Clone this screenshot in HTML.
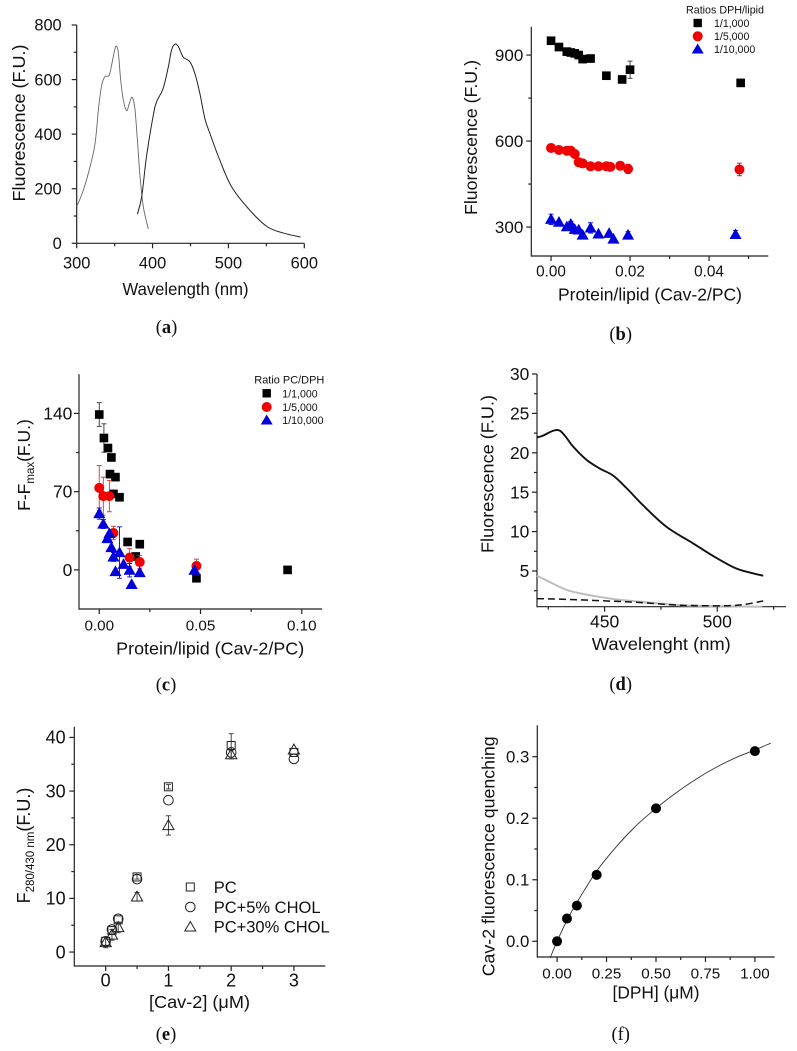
<!DOCTYPE html>
<html lang="en">
<head>
<meta charset="utf-8">
<title>Fluorescence panels</title>
<style>
html,body{margin:0;padding:0;background:#fff;width:797px;height:1051px;overflow:hidden}
svg{display:block}
text{font-family:"Liberation Sans",sans-serif;fill:#111}
.cap{font-family:"Liberation Serif",serif;font-size:18.5px;text-anchor:middle}
.cap tspan{font-weight:bold}
.ttl{font-size:17.5px}
.leg{font-size:10.6px}
</style>
</head>
<body>
<svg id="fig" width="797" height="1051" viewBox="0 0 797 1051" xmlns="http://www.w3.org/2000/svg">
  <rect width="797" height="1051" fill="#fff"/>

  <g id="panel-a">
    <text class="ttl" transform="translate(25,123) rotate(-90)" text-anchor="middle" textLength="157" lengthAdjust="spacingAndGlyphs">Fluorescence (F.U.)</text>
    <text class="ttl" x="185.5" y="295" text-anchor="middle" textLength="126" lengthAdjust="spacingAndGlyphs">Wavelength (nm)</text>
    <text class="cap" x="166.5" y="333">(<tspan>a</tspan>)</text>
  </g>

  <g id="panel-b">
    <text class="ttl" transform="translate(477,137.5) rotate(-90)" text-anchor="middle" textLength="155" lengthAdjust="spacingAndGlyphs">Fluorescence (F.U.)</text>
    <text class="ttl" x="650" y="300.5" text-anchor="middle" textLength="184" lengthAdjust="spacingAndGlyphs">Protein/lipid (Cav-2/PC)</text>
    <text class="cap" x="620.7" y="340">(<tspan>b</tspan>)</text>
    <g>
      <text class="leg" x="725" y="13.5" text-anchor="middle" textLength="78" lengthAdjust="spacingAndGlyphs">Ratios DPH/lipid</text>
      <rect x="693.5" y="18.8" width="8.4" height="8.4" fill="#000"/>
      <text class="leg" x="714" y="27">1/1,000</text>
      <circle cx="697.7" cy="36.3" r="5" fill="#f00000"/>
      <text class="leg" x="714" y="40.2">1/5,000</text>
      <polygon points="697.7,43.5 703.7,53.5 691.7,53.5" fill="#0000dd"/>
      <text class="leg" x="714" y="53.2">1/10,000</text>
    </g>
  </g>

  <g id="panel-c">
    <text class="ttl" transform="translate(30,465) rotate(-90)" text-anchor="middle">F-F<tspan font-size="11.5" dy="4">max</tspan><tspan dy="-4">(F.U.)</tspan></text>
    <text class="ttl" x="210.2" y="654.3" text-anchor="middle" textLength="188" lengthAdjust="spacingAndGlyphs">Protein/lipid (Cav-2/PC)</text>
    <text class="cap" x="166" y="690.7">(<tspan>c</tspan>)</text>
    <g>
      <text class="leg" x="289.3" y="383.5" text-anchor="middle" textLength="70" lengthAdjust="spacingAndGlyphs">Ratio PC/DPH</text>
      <rect x="262.5" y="389.1" width="8.4" height="8.4" fill="#000"/>
      <text class="leg" x="282.3" y="397.3">1/1,000</text>
      <circle cx="266.7" cy="407" r="5" fill="#f00000"/>
      <text class="leg" x="282.3" y="410.8">1/5,000</text>
      <polygon points="266.7,414.5 272.7,424.5 260.7,424.5" fill="#0000dd"/>
      <text class="leg" x="282.3" y="424.2">1/10,000</text>
    </g>
  </g>

  <g id="panel-d">
    <text class="ttl" transform="translate(493.3,474) rotate(-90)" text-anchor="middle" textLength="158" lengthAdjust="spacingAndGlyphs">Fluorescence (F.U.)</text>
    <text class="ttl" x="661.3" y="650" text-anchor="middle" textLength="139" lengthAdjust="spacingAndGlyphs">Wavelenght (nm)</text>
    <text class="cap" x="620.7" y="690">(<tspan>d</tspan>)</text>
  </g>

  <g id="panel-e">
    <text class="ttl" transform="translate(30,845.5) rotate(-90)" text-anchor="middle" style="font-size:18px">F<tspan font-size="11.5" dy="4">280/430 nm</tspan><tspan dy="-4">(F.U.)</tspan></text>
    <text class="ttl" x="199.5" y="1008" text-anchor="middle" textLength="101" lengthAdjust="spacingAndGlyphs">[Cav-2] (μM)</text>
    <text class="cap" x="166" y="1040">(<tspan>e</tspan>)</text>
    <g>
      <rect x="186.3" y="883" width="8" height="8" fill="none" stroke="#222" stroke-width="1"/>
      <text x="213.7" y="893" font-size="16.5">PC</text>
      <circle cx="190.3" cy="907" r="4.8" fill="none" stroke="#222" stroke-width="1"/>
      <text x="213.7" y="913" font-size="16.5">PC+5% CHOL</text>
      <polygon points="190.3,921.5 195.8,931 184.8,931" fill="none" stroke="#222" stroke-width="1"/>
      <text x="213.7" y="932.5" font-size="16.5">PC+30% CHOL</text>
    </g>
  </g>

  <g id="panel-f">
    <text class="ttl" transform="translate(494.3,856.3) rotate(-90)" text-anchor="middle" textLength="240" lengthAdjust="spacingAndGlyphs">Cav-2 fluorescence quenching</text>
    <text class="ttl" x="656" y="998.3" text-anchor="middle" textLength="87" lengthAdjust="spacingAndGlyphs">[DPH] (μM)</text>
    <text class="cap" x="620.7" y="1040">(<tspan style="font-weight:normal">f</tspan>)</text>
  </g>
</svg>

<script>
// ---------- Panel (a) ----------
const aExcitationNm = [300,308.8,317.6,324.2,329,333,337.3,342.6,346,350.5,352.7,355,358,361.5,365.9,369.4,372.9,376.4,380,383.5,387.8,394.4];
const aExcitationFU = [134,195,281,366,500,580,611,615,653,714,721,696,598,525,486,513,535,501,379,244,134,52];
const aEmissionNm = [380,385.7,392,401,405.4,414,420.8,425,429.6,434,440.5,449,455.7,462.3,468.9,475.5,488.6,504,526,551,573,595];
const aEmissionFU = [107,171,318,470,519,568,647,708,730,721,682,666,623,550,458,403,305,208,128,61,37,23];
const aXTicks = [300,400,500,600];
const aXMinor = [350,450,550];
const aYTicks = [0,200,400,600,800];
const aYMinor = [100,300,500,700];

// ---------- Panel (b) ----------
const bSquareX = [0,.002,.004,.005,.006,.007,.008,.01,.014,.018,.02,.048];
const bSquareY = [950,928,912,909,906,900,886,888,828,815,849,803];
const bSquareErr = [0,0,0,0,0,0,0,0,0,0,30,0];
const bCircleX = [0,.002,.004,.005,.006,.007,.008,.01,.012,.014,.015,.0175,.0195,.0477];
const bCircleY = [576,569,566,566,555,526,522,512,512,512,510,514,503,501];
const bCircleErr = [0,0,0,0,0,0,14,0,0,0,0,0,16,22];
const bTriangleX = [0,.002,.004,.005,.006,.007,.008,.01,.012,.0147,.0158,.0195,.0467];
const bTriangleY = [327,317,301,310,292,290,272,297,276,278,258,272,274];
const bTriangleErr = [18,0,0,10,0,0,0,18,0,0,0,12,14];
const bXTicks = [0,.02,.04];
const bXMinor = [.01,.03,.05];
const bYTicks = [300,600,900];
const bYMinor = [450,750];

// ---------- Panel (c) ----------
const cSquareX = [0,.0023,.0043,.006,.0053,.008,.007,.01,.014,.018,.02,.048,.093];
const cSquareY = [139,118,109,100.6,85.7,83,68,65,25,12,23,-7.5,0];
const cSquareErr = [10.6,12.7,0,0,0,0,0,0,0,0,0,0,0];
const cCircleX = [0,.002,.005,.007,.015,.02,.048];
const cCircleY = [73.4,66,66,33,11,7,3.6];
const cCircleErr = [20,17,14,6,8,6,6];
const cTriangleX = [0,.002,.005,.004,.006,.007,.01,.008,.012,.015,.02,.016,.047];
const cTriangleY = [50.4,41,32.5,28,20,11.6,15.5,-1.5,5,-.3,-2.4,-13,-.3];
const cTriangleErr = [5,4,0,0,0,4,23,0,0,6,0,0,0];
const cXTicks = [0,.05,.1];
const cXMinor = [.025,.075];
const cYTicks = [0,70,140];
const cYMinor = [35,105];

// ---------- Panel (d) ----------
const dBlackNm = [420,422.8,427.2,430.2,433.1,436,442,447.9,453.8,459.8,467.2,477.5,489.3,498.2,507.8,514.5,520.4];
const dBlackFU = [21.95,22.2,22.8,22.8,21.9,20.8,19.1,18,17.1,15.5,13.3,10.6,8.5,6.9,5.4,4.8,4.4];
const dGrayNm = [420,425.7,433.1,442,453.8,465.7,477.5,487.9,499.7,520];
const dGrayFU = [4.4,3.6,2.6,2,1.45,1.1,.8,.6,.55,.47];
const dDashNm = [420,433,451,465.7,480.5,492,505.6,513,520.4];
const dDashFU = [1.5,1.4,1.2,1,.7,.6,.6,.8,1.2];
const dXTicks = [450,500];
const dXMinor = [425,475,525];
const dYTicks = [5,10,15,20,25,30];
const dYMinor = [2.5,7.5,12.5,17.5,22.5,27.5];

// ---------- Panel (e) ----------
const eConc = [0,.1,.2,.5,1,2,3];
const ePC = [2,4,6,14,30.8,38.5,37.2];
const ePCErr = [0,0,0,.4,.4,2.2,0];
const ePC5 = [2,4.2,6.2,13.6,28.3,37.2,36];
const ePC5Err = [0,0,0,0,0,0,0];
const ePC30 = [1.8,3.2,4.6,10.3,23.6,36.8,37.7];
const ePC30Err = [1,1,1,.8,1.8,.8,0];
const eXTicks = [0,1,2,3];
const eXMinor = [.5,1.5,2.5];
const eYTicks = [0,10,20,30,40];
const eYMinor = [5,15,25,35];

// ---------- Panel (f) ----------
const fDph = [0,.05,.1,.2,.5,1];
const fQuench = [0,.037,.058,.108,.216,.309];
const fFitX = [-.035,0,.05,.1,.2,.3,.4,.5,.6,.7,.8,.9,1,1.08];
const fFitY = [-.027,0,.034,.063,.114,.154,.188,.216,.241,.263,.282,.298,.311,.322];
const fXTicks = [0,.25,.5,.75,1];
const fXMinor = [.125,.375,.625,.875];
const fYTicks = [0,.1,.2,.3];
const fYMinor = [.05,.15,.25];

const SVGNS = 'http://www.w3.org/2000/svg';
function make(parent, tag, attrs, name) {
  const el = document.createElementNS(SVGNS, tag);
  for (const k in attrs) el.setAttribute(k, attrs[k]);
  
  
  parent.appendChild(el);
  return el;
}
function scale(p) {
  return {
    x: v => p.left + (v - p.xMin) / (p.xMax - p.xMin) * (p.right - p.left),
    y: v => p.bottom - (v - p.yMin) / (p.yMax - p.yMin) * (p.bottom - p.top)
  };
}
function drawAxes(g, p, s) {
  const ax = make(g, 'g', {stroke:'#222','stroke-width':1.2,fill:'none'}, 'axes');
  make(ax, 'line', {x1:p.left,y1:p.top,x2:p.left,y2:p.bottom+.6}, 'y-axis-line');
  make(ax, 'line', {x1:p.left,y1:p.bottom,x2:p.right,y2:p.bottom}, 'x-axis-line');
  p.xTicks.forEach(v => {
    make(ax, 'line', {x1:s.x(v),y1:p.bottom,x2:s.x(v),y2:p.bottom+5}, 'x-tick');
    const t = make(g, 'text', {x:s.x(v),y:p.bottom+p.xLabelDy,'text-anchor':'middle','font-size':p.xSize}, 'x-tick-label');
    t.textContent = v.toFixed(p.xDigits);
  });
  p.xMinor.forEach(v => {
    make(ax, 'line', {x1:s.x(v),y1:p.bottom,x2:s.x(v),y2:p.bottom+3}, 'x-minor-tick');
  });
  p.yTicks.forEach(v => {
    make(ax, 'line', {x1:p.left-5,y1:s.y(v),x2:p.left,y2:s.y(v)}, 'y-tick');
    const t = make(g, 'text', {x:p.left-p.yLabelGap,y:s.y(v)+p.ySize*.35,'text-anchor':'end','font-size':p.ySize}, 'y-tick-label');
    t.textContent = v.toFixed(p.yDigits);
  });
  p.yMinor.forEach(v => {
    make(ax, 'line', {x1:p.left-3,y1:s.y(v),x2:p.left,y2:s.y(v)}, 'y-minor-tick');
  });
}
function smoothPath(xs, ys, s) {
  const pts = xs.map((x, i) => [s.x(x), s.y(ys[i])]);
  let d = 'M' + pts[0][0].toFixed(2) + ' ' + pts[0][1].toFixed(2);
  for (let i = 0; i < pts.length - 1; i++) {
    const p0 = pts[Math.max(i-1,0)], p1 = pts[i], p2 = pts[i+1], p3 = pts[Math.min(i+2,pts.length-1)];
    const c1x = p1[0] + (p2[0]-p0[0])/6, c1y = p1[1] + (p2[1]-p0[1])/6;
    const c2x = p2[0] - (p3[0]-p1[0])/6, c2y = p2[1] - (p3[1]-p1[1])/6;
    d += 'C' + [c1x,c1y,c2x,c2y,p2[0],p2[1]].map(n => n.toFixed(2)).join(' ');
  }
  return d;
}
function drawCurve(g, xs, ys, s, style, name) {
  make(g, 'path', Object.assign({d:smoothPath(xs, ys, s),fill:'none','stroke-linejoin':'round'}, style), name);
}
function drawMarker(g, shape, cx, cy, fill, stroke, name) {
  const st = {fill:fill};
  if (stroke) { st.stroke = stroke; st['stroke-width'] = 1; }
  const k = stroke ? 1 : 1.08;
  if (shape === 'square') {
    make(g, 'rect', Object.assign({x:cx-4*k,y:cy-4*k,width:8*k,height:8*k}, st), name);
  } else if (shape === 'circle') {
    make(g, 'circle', Object.assign({cx:cx,cy:cy,r:stroke ? 4.8 : 5}, st), name);
  } else {
    const pts = [[cx,cy-5.7*k],[cx+5.6*k,cy+4.2*k],[cx-5.6*k,cy+4.2*k]].map(q => q[0].toFixed(2)+','+q[1].toFixed(2)).join(' ');
    make(g, 'polygon', Object.assign({points:pts}, st), name);
  }
}
function drawSeries(g, s, xs, ys, errs, shape, fill, stroke, errColor, name) {
  const sg = make(g, 'g', {}, name);
  xs.forEach((x, i) => {
    if (!errs[i]) return;
    const cx = s.x(x), hi = s.y(ys[i] + errs[i]), lo = s.y(ys[i] - errs[i]);
    make(sg, 'line', {x1:cx,y1:hi,x2:cx,y2:lo,stroke:errColor,'stroke-width':.9}, 'error-bar');
    make(sg, 'line', {x1:cx-2.5,y1:hi,x2:cx+2.5,y2:hi,stroke:errColor,'stroke-width':.9}, 'error-cap-top');
    make(sg, 'line', {x1:cx-2.5,y1:lo,x2:cx+2.5,y2:lo,stroke:errColor,'stroke-width':.9}, 'error-cap-bottom');
  });
  xs.forEach((x, i) => {
    drawMarker(sg, shape, s.x(x), s.y(ys[i]), fill, stroke, name + '-point');
  });
}

const RED = '#f00000', BLUE = '#0000dd';

// Panel a
(function () {
  const p = {left:76.7,right:304.3,top:25,bottom:243.3,xMin:300,xMax:600,yMin:0,yMax:800,
    xTicks:aXTicks,xMinor:aXMinor,yTicks:aYTicks,yMinor:aYMinor,xDigits:0,yDigits:0,
    xSize:16.4,ySize:16.4,xLabelDy:25,yLabelGap:15};
  const g = document.getElementById('panel-a'), s = scale(p);
  drawAxes(g, p, s);
  drawCurve(g, aExcitationNm, aExcitationFU, s, {stroke:'#666','stroke-width':.9}, 'excitation-line');
  drawCurve(g, aEmissionNm, aEmissionFU, s, {stroke:'#222','stroke-width':1}, 'emission-line');
})();

// Panel b
(function () {
  const p = {left:531.3,right:768.3,top:26.7,bottom:256,xMin:-.005,xMax:.055,yMin:199,yMax:999,
    xTicks:bXTicks,xMinor:bXMinor,yTicks:bYTicks,yMinor:bYMinor,xDigits:2,yDigits:0,
    xSize:15.3,ySize:17,xLabelDy:20.7,yLabelGap:8};
  const g = document.getElementById('panel-b'), s = scale(p);
  drawAxes(g, p, s);
  drawSeries(g, s, bSquareX, bSquareY, bSquareErr, 'square', '#000', null, '#333', 'series-1-1000');
  drawSeries(g, s, bCircleX, bCircleY, bCircleErr, 'circle', RED, null, RED, 'series-1-5000');
  drawSeries(g, s, bTriangleX, bTriangleY, bTriangleErr, 'triangle', BLUE, null, BLUE, 'series-1-10000');
})();

// Panel c
(function () {
  const p = {left:79,right:322,top:374.3,bottom:609,xMin:-.01,xMax:.11,yMin:-35,yMax:175,
    xTicks:cXTicks,xMinor:cXMinor,yTicks:cYTicks,yMinor:cYMinor,xDigits:2,yDigits:0,
    xSize:15.2,ySize:17.4,xLabelDy:21.7,yLabelGap:6.7};
  const g = document.getElementById('panel-c'), s = scale(p);
  drawAxes(g, p, s);
  drawSeries(g, s, cSquareX, cSquareY, cSquareErr, 'square', '#000', null, '#333', 'series-1-1000');
  drawSeries(g, s, cCircleX, cCircleY, cCircleErr, 'circle', RED, null, '#e03030', 'series-1-5000');
  drawSeries(g, s, cTriangleX, cTriangleY, cTriangleErr, 'triangle', BLUE, null, BLUE, 'series-1-10000');
})();

// Panel d
(function () {
  const p = {left:537,right:786,top:374,bottom:606.7,xMin:420,xMax:530.5,yMin:.47,yMax:30,
    xTicks:dXTicks,xMinor:dXMinor,yTicks:dYTicks,yMinor:dYMinor,xDigits:0,yDigits:0,
    xSize:17.5,ySize:17.4,xLabelDy:21,yLabelGap:7.7};
  const g = document.getElementById('panel-d'), s = scale(p);
  drawAxes(g, p, s);
  drawCurve(g, dGrayNm, dGrayFU, s, {stroke:'#bdbdbd','stroke-width':2}, 'gray-line');
  drawCurve(g, dDashNm, dDashFU, s, {stroke:'#111','stroke-width':1.5,'stroke-dasharray':'7 4'}, 'dashed-line');
  drawCurve(g, dBlackNm, dBlackFU, s, {stroke:'#111','stroke-width':1.9}, 'black-line');
})();

// Panel e
(function () {
  const p = {left:74.3,right:325.3,top:726.7,bottom:966,xMin:-.5,xMax:3.5,yMin:-2.6,yMax:42,
    xTicks:eXTicks,xMinor:eXMinor,yTicks:eYTicks,yMinor:eYMinor,xDigits:0,yDigits:0,
    xSize:18,ySize:18,xLabelDy:20.7,yLabelGap:8.6};
  const g = document.getElementById('panel-e'), s = scale(p);
  drawAxes(g, p, s);
  drawSeries(g, s, eConc, ePC, ePCErr, 'square', 'none', '#222', '#333', 'series-pc');
  drawSeries(g, s, eConc, ePC5, ePC5Err, 'circle', 'none', '#222', '#333', 'series-pc-5-chol');
  drawSeries(g, s, eConc, ePC30, ePC30Err, 'triangle', 'none', '#222', '#333', 'series-pc-30-chol');
})();

// Panel f
(function () {
  const p = {left:537.3,right:774.7,top:725.3,bottom:957,xMin:-.1,xMax:1.1,yMin:-.0255,yMax:.351,
    xTicks:fXTicks,xMinor:fXMinor,yTicks:fYTicks,yMinor:fYMinor,xDigits:2,yDigits:1,
    xSize:15.2,ySize:16.8,xLabelDy:21.3,yLabelGap:8};
  const g = document.getElementById('panel-f'), s = scale(p);
  drawAxes(g, p, s);
  drawCurve(g, fFitX, fFitY, s, {stroke:'#333','stroke-width':.9}, 'fit-curve');
  const sg = make(g, 'g', {}, 'series-quenching');
  fDph.forEach((x, i) => {
    drawMarker(sg, 'circle', s.x(x), s.y(fQuench[i]), '#000', null, 'data-point');
  });
})();
</script>
</body>
</html>
